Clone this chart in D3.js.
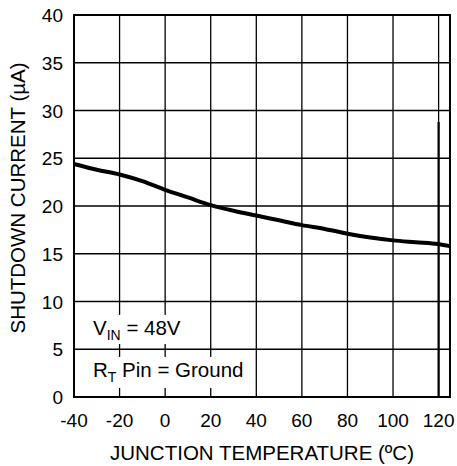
<!DOCTYPE html>
<html>
<head>
<meta charset="utf-8">
<script src="https://cdn.jsdelivr.net/npm/d3@7"></script>
<style>
  body { margin: 0; background: #fff; }
  text { font-family: "Liberation Sans", Arial, sans-serif; fill: #000; }
</style>
</head>
<body>
<div id="chart"></div>
<script>
// Data
const temps = [-40, -30, -20, -10, 0, 10, 20, 30, 40, 50, 60, 70, 80, 90, 100, 110, 120, 125];
const current = [24.4, 23.8, 23.3, 22.6, 21.7, 20.9, 20.1, 19.5, 19.0, 18.5, 18.0, 17.6, 17.1, 16.7, 16.4, 16.2, 16.0, 15.8];
const xTicks = [-40, -20, 0, 20, 40, 60, 80, 100, 120];
const yTicks = [0, 5, 10, 15, 20, 25, 30, 35, 40];

const margin = {top: 15, left: 74};

const svg = d3.select("#chart")
  .append("svg")
    .attr("width", 457)
    .attr("height", 466)
  .append("g")
    .attr("transform", `translate(${margin.left},${margin.top})`);

const x = d3.scaleLinear().domain([-40, 125]).range([0, 376]);
const y = d3.scaleLinear().domain([0, 40]).range([382, 0]);

// Grid
svg.append("g").selectAll("line")
  .data(xTicks.slice(1))
  .join("line")
    .attr("x1", d => x(d)).attr("x2", d => x(d))
    .attr("y1", 0).attr("y2", y(0))
    .attr("stroke", "#000").attr("stroke-width", 1.3);
svg.append("g").selectAll("line")
  .data(yTicks.slice(1))
  .join("line")
    .attr("x1", 0).attr("x2", x(125))
    .attr("y1", d => y(d)).attr("y2", d => y(d))
    .attr("stroke", "#000").attr("stroke-width", 1.3);

// thicker lower part of the 120 line
svg.append("line")
  .attr("x1", x(120)).attr("x2", x(120))
  .attr("y1", y(28.8)).attr("y2", y(0))
  .attr("stroke", "#000").attr("stroke-width", 2.2);

// Label boxes (white backing)
svg.append("rect")
  .attr("x", 2).attr("y", y(8.6)).attr("width", 120).attr("height", y(5.55) - y(8.6))
  .attr("fill", "#fff");
svg.append("rect")
  .attr("x", 2).attr("y", y(4.2)).attr("width", 176).attr("height", y(0.94) - y(4.2))
  .attr("fill", "#fff");

// Frame
svg.append("rect")
  .attr("x", 0).attr("y", 0).attr("width", x(125)).attr("height", y(0))
  .attr("fill", "none").attr("stroke", "#000").attr("stroke-width", 2);

// Curve
svg.append("path")
  .datum(temps.map((t, i) => [t, current[i]]))
  .attr("fill", "none")
  .attr("stroke", "#000")
  .attr("stroke-width", 4)
  .attr("d", d3.line().x(d => x(d[0])).y(d => y(d[1])).curve(d3.curveMonotoneX));

// Axes labels
svg.append("g").selectAll("text")
  .data(yTicks)
  .join("text")
    .attr("x", -11).attr("y", d => y(d) + 7)
    .attr("text-anchor", "end")
    .attr("font-size", 19)
    .text(d => d);
svg.append("g").selectAll("text")
  .data(xTicks)
  .join("text")
    .attr("x", d => x(d)).attr("y", y(0) + 30)
    .attr("text-anchor", "middle")
    .attr("font-size", 19)
    .text(d => d);

svg.append("text")
  .attr("x", x(125) / 2).attr("y", y(0) + 63)
  .attr("text-anchor", "middle")
  .attr("font-size", 20.5)
  .text("JUNCTION TEMPERATURE (ºC)");

svg.append("text")
  .attr("transform", `translate(-49,${y(20) - 8})rotate(-90)`)
  .attr("text-anchor", "middle")
  .attr("font-size", 20.5)
  .text("SHUTDOWN CURRENT (µA)");

// Condition labels
const t1 = svg.append("text").attr("x", 19).attr("y", 320).attr("font-size", 20.5);
t1.append("tspan").text("V");
t1.append("tspan").attr("font-size", 14).attr("dy", 5).text("IN");
t1.append("tspan").attr("dy", -5).text(" = 48V");

const t2 = svg.append("text").attr("x", 19).attr("y", 361.5).attr("font-size", 20.5);
t2.append("tspan").text("R");
t2.append("tspan").attr("font-size", 14).attr("dy", 5).text("T");
t2.append("tspan").attr("dy", -5).text(" Pin = Ground");
</script>
</body>
</html>
